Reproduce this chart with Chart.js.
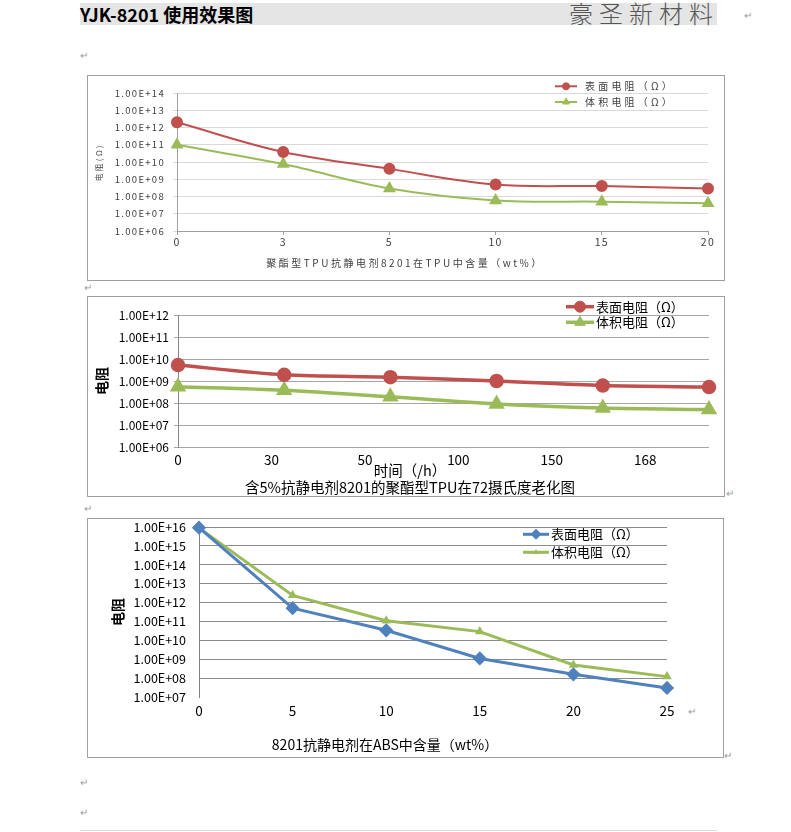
<!DOCTYPE html>
<html>
<head>
<meta charset="utf-8">
<script src="https://cdn.jsdelivr.net/npm/chart.js@4.4.1/dist/chart.umd.min.js"></script>
<style>
html, body { margin: 0; padding: 0; background: #fff; }
body { width: 791px; height: 832px; position: relative; overflow: hidden; font-family: "Noto Sans CJK SC", "Noto Sans", sans-serif; }
.band { position: absolute; left: 80px; top: 3px; width: 637px; height: 22px; background: #e5e5e5; }
#hdrL { position: absolute; left: 80px; top: 3px; height: 22px; line-height: 22px; font-size: 18px; font-weight: bold; color: #000; }
#hdrR { position: absolute; left: 569px; top: -1px; height: 28px; line-height: 28px; font-size: 24px; letter-spacing: 6px; color: #555; font-weight: 300; }
.box { position: absolute; border: 1px solid #a0a0a0; }
.box canvas { display: block; }
.mark { position: absolute; font-size: 10px; line-height: 10px; color: #9a9a9a; }
.rule { position: absolute; left: 80px; top: 830px; width: 637px; height: 1px; background: #dcdcdc; }
</style>
</head>
<body>
<div class="band"></div>
<div id="hdrL">YJK-8201 使用效果图</div>
<div id="hdrR">豪圣新材料</div>

<span class="mark" style="left:744px;top:10px">↵</span>
<span class="mark" style="left:80px;top:50px">↵</span>
<span class="mark" style="left:84px;top:282px">↵</span>
<span class="mark" style="left:726px;top:488px">↵</span>
<span class="mark" style="left:84px;top:503px">↵</span>
<span class="mark" style="left:688px;top:706px">↵</span>
<span class="mark" style="left:724px;top:750px">↵</span>
<span class="mark" style="left:80px;top:777px">↵</span>
<span class="mark" style="left:80px;top:807px">↵</span>

<div class="box" style="left:87px;top:75px;width:636px;height:204px">
  <canvas id="chart1" width="636" height="204"></canvas>
</div>
<div class="box" style="left:87px;top:296px;width:636px;height:199px">
  <canvas id="chart2" width="636" height="199"></canvas>
</div>
<div class="box" style="left:87px;top:518px;width:635px;height:238px">
  <canvas id="chart3" width="635" height="238"></canvas>
</div>
<div class="rule"></div>

<script>
// Legend labels
const surfaceLabel = "表面电阻（Ω）";
const volumeLabel = "体积电阻（Ω）";

// Chart 1: 8201 content in polyester TPU
const content1 = ["0", "3", "5", "10", "15", "20"];
const surface1 = [2.0e12, 3.8e10, 4.0e9, 4.9e8, 4.0e8, 2.9e8];
const volume1 = [1.0e11, 7.6e9, 2.9e8, 5.9e7, 5.0e7, 4.0e7];
const yTicks1 = [1e6, 1e7, 1e8, 1e9, 1e10, 1e11, 1e12, 1e13, 1e14];
const xTitle1 = "聚酯型TPU抗静电剂8201在TPU中含量（wt%）";
const yTitle1 = "电阻(Ω)";

// Chart 2: ageing at 72 C
const hours2 = ["0", "30", "50", "100", "150", "168"];
const surface2 = [5.3e9, 1.9e9, 1.5e9, 1.0e9, 6.2e8, 5.3e8];
const volume2 = [5.5e8, 3.8e8, 1.9e8, 9.0e7, 5.9e7, 5.0e7];
const yTicks2 = [1e6, 1e7, 1e8, 1e9, 1e10, 1e11, 1e12];
const xTitle2 = "时间（/h）";
const chartTitle2 = "含5%抗静电剂8201的聚酯型TPU在72摄氏度老化图";
const yTitle2 = "电阻";

// Chart 3: 8201 content in ABS
const content3 = ["0", "5", "10", "15", "20", "25"];
const surface3 = [9.2e15, 5.0e11, 3.4e10, 1.1e9, 1.6e8, 3.0e7];
const volume3 = [9.0e15, 2.4e12, 1.1e11, 2.9e10, 5.0e8, 1.2e8];
const yTicks3 = [1e7, 1e8, 1e9, 1e10, 1e11, 1e12, 1e13, 1e14, 1e15, 1e16];
const xTitle3 = "8201抗静电剂在ABS中含量（wt%）";
const yTitle3 = "电阻";

const FONT = "'Noto Sans CJK SC', 'Noto Sans', sans-serif";
const RED = "#C0504D";
const GREEN = "#9BBB59";
const BLUE = "#4F81BD";

Chart.defaults.font.family = FONT;
Chart.defaults.animation = false;

// "1.00E+14" style labels
function sci(v) {
    const parts = Number(v).toExponential(2).split("e");
    const exp = parts[1];
    return parts[0] + "E" + exp[0] + exp.slice(1).padStart(2, "0");
}

function fixTicks(values) {
    return scale => { scale.ticks = values.map(v => ({ value: v })); };
}

// Word-style legend drawn inside the plot
const docLegend = {
    id: "docLegend",
    afterDraw(chart, args, o) {
        const ctx = chart.ctx;
        ctx.save();
        ctx.letterSpacing = o.spacing || "0px";
        ctx.font = o.font;
        ctx.textBaseline = "middle";
        ctx.textAlign = "left";
        chart.data.datasets.forEach((ds, i) => {
            const y = o.y + i * o.rowGap;
            ctx.strokeStyle = ds.borderColor;
            ctx.lineWidth = ds.borderWidth;
            ctx.beginPath();
            ctx.moveTo(o.x - o.half, y);
            ctx.lineTo(o.x + o.half, y);
            ctx.stroke();
            ctx.fillStyle = ds.borderColor;
            ctx.lineWidth = 1;
            Chart.helpers.drawPoint(ctx, {
                pointStyle: ds.pointStyle,
                radius: o.radius[i],
                rotation: 0,
                borderWidth: 1
            }, o.x, y);
            ctx.fillStyle = o.color;
            ctx.fillText(ds.label, o.textX, y);
        });
        ctx.restore();
        ctx.letterSpacing = "0px";
    }
};

// Chart 1 titles are letter-spaced wide, its tick labels only a little
// (tick labels use z: 1 so they are drawn after the datasets)
const spaced = {
    id: "spaced",
    beforeDraw(chart, args, o) { chart.ctx.letterSpacing = o.titles; },
    afterDatasetsDraw(chart, args, o) { chart.ctx.letterSpacing = o.ticks; }
};


// ---- Chart 1
new Chart(document.getElementById("chart1"), {
    type: "line",
    data: {
        labels: content1,
        datasets: [
            {
                label: surfaceLabel, data: surface1,
                borderColor: RED, backgroundColor: RED, borderWidth: 2,
                pointStyle: "circle", pointRadius: 5, tension: 0.35, clip: false
            },
            {
                label: volumeLabel, data: volume1,
                borderColor: GREEN, backgroundColor: GREEN, borderWidth: 2,
                pointStyle: "triangle", pointRadius: 5.5, tension: 0.35, clip: false
            }
        ]
    },
    options: {
        responsive: false,
        layout: { padding: { left: 14, right: 16, top: 17, bottom: 0 } },
        plugins: {
            legend: { display: false },
            tooltip: { enabled: false },
            title: {
                display: true, position: "bottom", text: xTitle1,
                color: "#404040", font: { size: 10, weight: "normal", lineHeight: 1.2 },
                padding: { top: 0, bottom: 11 }
            },
            spaced: { titles: "2.5px", ticks: "1.3px" },
            docLegend: {
                x: 478, y: 10.3, rowGap: 15.7, half: 11, textX: 497,
                radius: [3.5, 4], font: "10px " + FONT, color: "#404040", spacing: "3.2px"
            }
        },
        scales: {
            x: {
                type: "category", offset: false,
                grid: { drawOnChartArea: false, drawTicks: true, tickLength: 4, color: "#a0a0a0" },
                border: { color: "#a0a0a0" },
                ticks: { z: 1, color: "#404040", font: { size: 10.5 }, padding: 1, maxRotation: 0 },
                afterFit: s => { s.height = 26; }
            },
            y: {
                type: "logarithmic", min: 1e6, max: 1e14,
                afterBuildTicks: fixTicks(yTicks1),
                grid: { color: "#d9d9d9", tickLength: 4 },
                border: { color: "#a0a0a0" },
                ticks: {
                    z: 1, color: "#404040", font: { size: 9.5 }, padding: 8, autoSkip: false,
                    callback: v => sci(v)
                },
                title: {
                    display: true, text: yTitle1, color: "#404040",
                    font: { size: 7.5, lineHeight: 1.2 }, padding: { top: -7, bottom: 0 }
                },
                afterFit: s => { s.width = 75; }
            }
        }
    },
    plugins: [spaced, docLegend]
});


// ---- Chart 2
new Chart(document.getElementById("chart2"), {
    type: "line",
    data: {
        labels: hours2,
        datasets: [
            {
                label: surfaceLabel, data: surface2, xAxisID: "x",
                borderColor: RED, backgroundColor: RED, borderWidth: 3.5,
                pointStyle: "circle", pointRadius: 5.5, tension: 0.3, clip: false
            },
            {
                label: volumeLabel, data: volume2, xAxisID: "x",
                borderColor: GREEN, backgroundColor: GREEN, borderWidth: 3.5,
                pointStyle: "triangle", pointRadius: 6, tension: 0.3, clip: false
            }
        ]
    },
    options: {
        responsive: false,
        layout: { padding: { left: 23, right: 15, top: 18, bottom: 0 } },
        plugins: {
            legend: { display: false },
            tooltip: { enabled: false },
            title: {
                display: true, position: "bottom", text: [xTitle2, chartTitle2],
                color: "#000", font: { size: 14.5, weight: "normal", lineHeight: "17px" },
                padding: { top: -7, bottom: 0 }
            },
            docLegend: {
                x: 492, y: 9.7, rowGap: 15.6, half: 14, textX: 508,
                radius: [5.5, 6], font: "13px " + FONT, color: "#000"
            }
        },
        scales: {
            x: {
                type: "category", offset: false,
                grid: { display: false, drawTicks: false },
                border: { display: false },
                ticks: { display: false },
                afterFit: s => { s.height = 0; }
            },
            // the hour labels sit on a tighter spacing than the points, as in the original
            xh: {
                type: "linear", axis: "x", position: "bottom",
                min: 0, max: (hours2.length - 1) / 0.88,
                afterBuildTicks: s => { s.ticks = hours2.map((h, i) => ({ value: i })); },
                grid: { display: false, drawTicks: false },
                border: { display: false },
                ticks: {
                    color: "#000", font: { size: 13.5 }, padding: 5, autoSkip: false, maxRotation: 0,
                    callback: (v, i) => hours2[i]
                },
                afterFit: s => { s.height = 22; }
            },
            y: {
                type: "logarithmic", min: 1e6, max: 1e12,
                afterBuildTicks: fixTicks(yTicks2),
                grid: { color: "#a6a6a6", tickLength: 4 },
                border: { color: "#868686" },
                ticks: { color: "#000", font: { size: 12 }, padding: 5, autoSkip: false, callback: v => sci(v) },
                title: {
                    display: true, text: yTitle2, color: "#000",
                    font: { size: 14, weight: "bold", lineHeight: 1.2 }, padding: { top: -18, bottom: 0 }
                },
                afterFit: s => { s.width = 67; }
            }
        }
    },
    plugins: [docLegend]
});


// ---- Chart 3
new Chart(document.getElementById("chart3"), {
    type: "line",
    data: {
        labels: content3,
        datasets: [
            {
                label: surfaceLabel, data: surface3,
                borderColor: BLUE, backgroundColor: BLUE, borderWidth: 3,
                pointStyle: "rectRot", pointRadius: 5, tension: 0, clip: false
            },
            {
                label: volumeLabel, data: volume3,
                borderColor: GREEN, backgroundColor: GREEN, borderWidth: 3,
                pointStyle: "triangle", pointRadius: 2.5, tension: 0, clip: false
            }
        ]
    },
    options: {
        responsive: false,
        layout: { padding: { left: 15, right: 56, top: 8, bottom: 0 } },
        plugins: {
            legend: { display: false },
            tooltip: { enabled: false },
            title: {
                display: true, position: "bottom", text: xTitle3,
                color: "#000", font: { size: 14, weight: "normal", lineHeight: 1.2 },
                padding: { top: 0, bottom: 3.6 }
            },
            docLegend: {
                x: 448, y: 15.3, rowGap: 18, half: 13, textX: 463,
                radius: [5, 2.5], font: "13px " + FONT, color: "#000"
            }
        },
        scales: {
            x: {
                type: "category", offset: false,
                grid: { display: false, drawTicks: false },
                border: { display: false },
                ticks: { color: "#000", font: { size: 13.5 }, padding: 6, maxRotation: 0 },
                afterFit: s => { s.height = 39.6; }
            },
            y: {
                type: "logarithmic", min: 1e7, max: 1e16,
                afterBuildTicks: fixTicks(yTicks3),
                grid: {
                    tickLength: 12.5,
                    tickColor: "rgba(0,0,0,0)",
                    color: c => (c.tick && c.tick.value === 1e7) ? "rgba(0,0,0,0)" : "#8c8c8c"
                },
                border: { color: "#808080" },
                ticks: { color: "#000", font: { size: 12.5 }, padding: 0.5, autoSkip: false, callback: v => sci(v) },
                title: {
                    display: true, text: yTitle3, color: "#000",
                    font: { size: 14, weight: "bold", lineHeight: 1.2 }, padding: { top: 6.6, bottom: 0 }
                },
                afterFit: s => { s.width = 96; }
            }
        }
    },
    plugins: [docLegend]
});
</script>
</body>
</html>
